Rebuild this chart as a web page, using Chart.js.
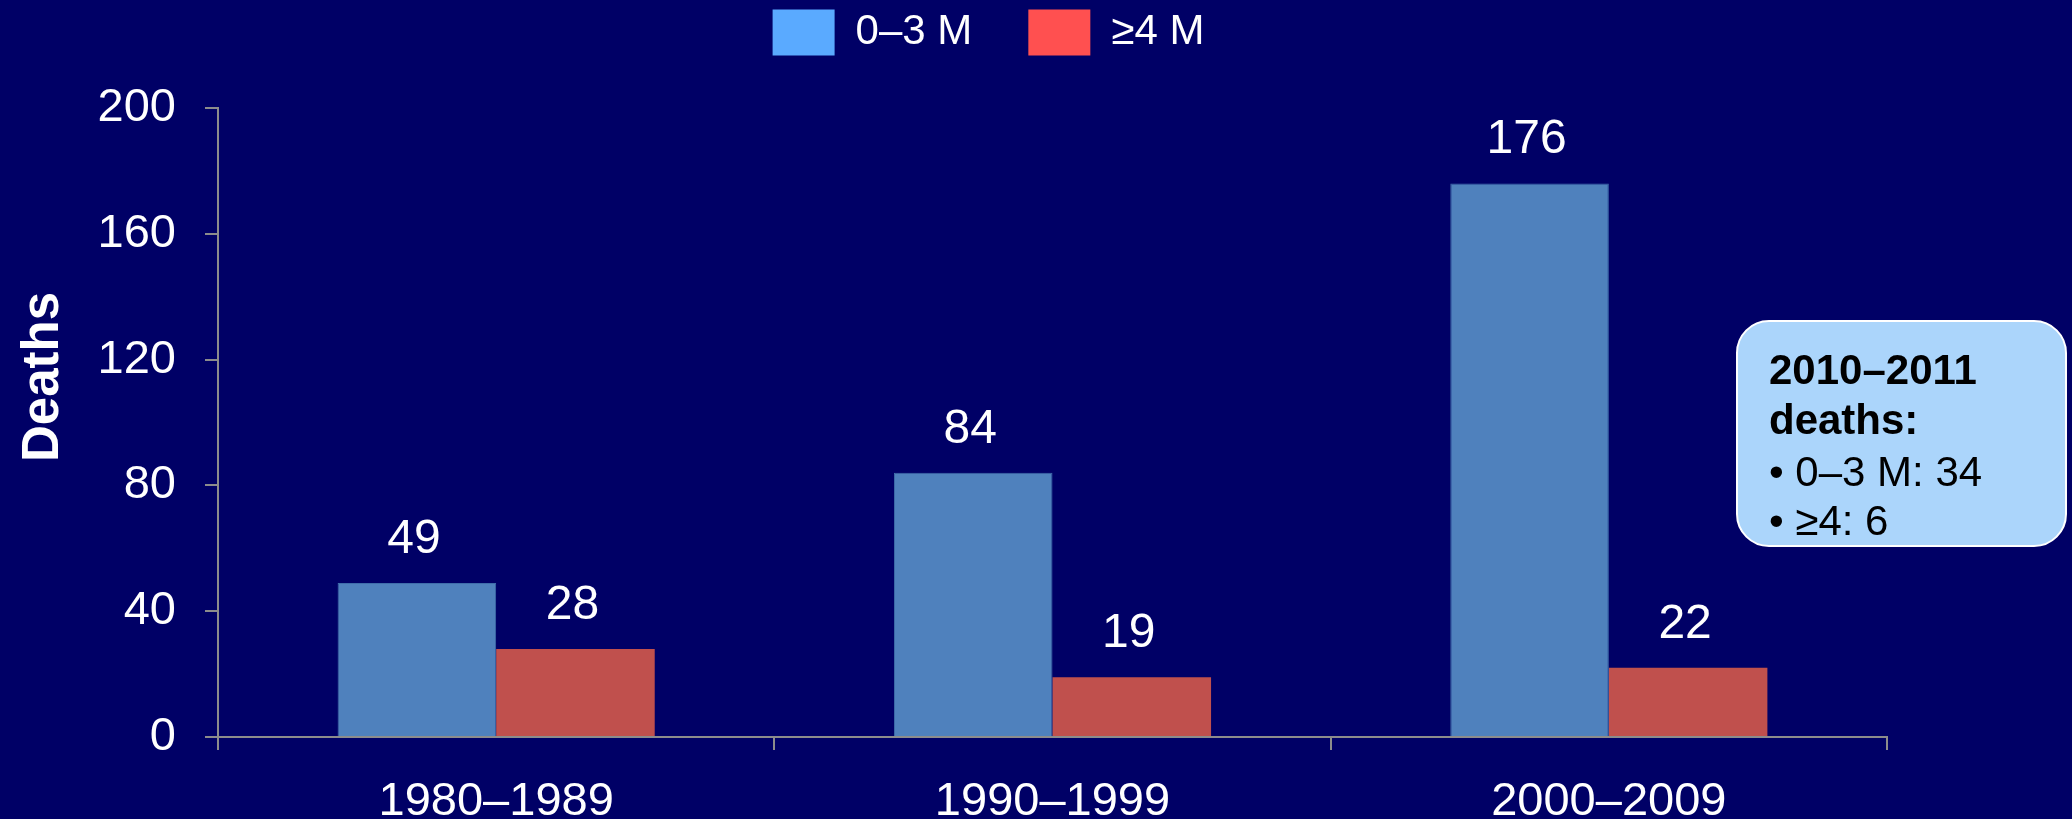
<!DOCTYPE html>
<html>
<head>
<meta charset="utf-8">
<script src="https://cdn.jsdelivr.net/npm/chart.js@4"></script>
<style>
  html, body { margin: 0; padding: 0; background: #000066; }
  #wrap { width: 2072px; height: 819px; position: relative; overflow: hidden; }
  canvas { display: block; }
</style>
</head>
<body>
<div id="wrap"><canvas id="chart" width="2072" height="819"></canvas></div>
<script>
// Deaths per decade, split by age group
const categories = ['1980–1989', '1990–1999', '2000–2009'];
const seriesNames = ['0–3 M', '≥4 M'];
const deathsYoung = [49, 84, 176];
const deathsOlder = [28, 19, 22];
const yTickValues = [0, 40, 80, 120, 160, 200];
const axisTitle = 'Deaths';
const noteHeading = ['2010–2011', 'deaths:'];
const noteItems = ['• 0–3 M: 34', '• ≥4: 6'];

const FONT = '"Liberation Sans", Arial, Helvetica, sans-serif';
const BG = '#000066';
const AXIS = '#8c8c8c';
const barColors = ['#4F81BD', '#C0504D'];
const legendColors = ['#5AAAFF', '#FF5050'];

// Background fill, legend placement and fixed plot-area geometry
const frame = {
  id: 'frame',
  beforeLayout(chart) {
    const lg = chart.legend;
    if (lg && !lg._fixedFit) {
      const fit = lg.fit;
      lg.fit = function () { fit.call(this); this.height = 108; };
      lg._fixedFit = true;
    }
  },
  afterLayout(chart) {
    const lg = chart.legend;
    lg.left += 45; lg.right += 45;
    lg.top -= 46.5; lg.bottom -= 46.5;
  },
  beforeDraw(chart) {
    const { ctx, width, height } = chart;
    ctx.save();
    ctx.fillStyle = BG;
    ctx.fillRect(0, 0, width, height);
    ctx.restore();
  }
};

// Value labels above each bar, the rotated axis title and the side note
const annotations = {
  id: 'annotations',
  afterDatasetsDraw(chart) {
    const ctx = chart.ctx;
    ctx.save();
    ctx.fillStyle = '#ffffff';
    ctx.font = '48px ' + FONT;
    ctx.textAlign = 'center';
    ctx.textBaseline = 'alphabetic';
    chart.data.datasets.forEach((ds, di) => {
      chart.getDatasetMeta(di).data.forEach((bar, i) => {
        ctx.fillText(String(ds.data[i]), bar.x - 3, bar.y - 30);
      });
    });
    ctx.restore();
  },
  afterDraw(chart) {
    const ctx = chart.ctx;
    // y-axis title
    ctx.save();
    ctx.translate(58, 377);
    ctx.rotate(-Math.PI / 2);
    ctx.fillStyle = '#ffffff';
    ctx.font = 'bold 51px ' + FONT;
    ctx.textAlign = 'center';
    ctx.textBaseline = 'alphabetic';
    ctx.fillText(axisTitle, 0, 0);
    ctx.restore();

    // side note box
    const bx = 1737, by = 321, bw = 329, bh = 225, r = 32;
    ctx.save();
    ctx.beginPath();
    ctx.roundRect(bx, by, bw, bh, r);
    ctx.fillStyle = '#ABD5FB';
    ctx.fill();
    ctx.lineWidth = 2;
    ctx.strokeStyle = '#ffffff';
    ctx.stroke();
    ctx.fillStyle = '#000000';
    ctx.textAlign = 'left';
    ctx.textBaseline = 'alphabetic';
    const tx = 1769;
    const baselines = [384, 434, 486, 535];
    ctx.font = 'bold 42px ' + FONT;
    noteHeading.forEach((t, i) => ctx.fillText(t, tx, baselines[i]));
    ctx.font = '42px ' + FONT;
    noteItems.forEach((t, i) => ctx.fillText(t, tx, baselines[noteHeading.length + i]));
    ctx.restore();
  }
};

new Chart(document.getElementById('chart'), {
  type: 'bar',
  data: {
    labels: categories,
    datasets: [
      { label: seriesNames[0], data: deathsYoung, backgroundColor: barColors[0], borderColor: '#3F6DAA', borderWidth: 1 },
      { label: seriesNames[1], data: deathsOlder, backgroundColor: barColors[1], borderWidth: 0 }
    ]
  },
  options: {
    responsive: false,
    animation: false,
    devicePixelRatio: 1,
    layout: { padding: { left: 0, right: 185, top: 0, bottom: 0 } },
    datasets: { bar: { categoryPercentage: 0.57, barPercentage: 1.0 } },
    plugins: {
      tooltip: { enabled: false },
      legend: {
        position: 'top',
        labels: {
          color: '#ffffff',
          font: { family: FONT, size: 42 },
          boxWidth: 62,
          boxHeight: 46,
          padding: 56,
          generateLabels: () => seriesNames.map((t, i) => ({
            text: t,
            fillStyle: legendColors[i],
            strokeStyle: legendColors[i],
            lineWidth: 0,
            hidden: false,
            datasetIndex: i,
            fontColor: '#ffffff'
          }))
        }
      }
    },
    scales: {
      x: {
        afterFit: s => { s.height = 82; },
        grid: { offset: true, drawOnChartArea: false, drawTicks: true, tickLength: 13, color: AXIS, lineWidth: 2 },
        border: { display: true, color: AXIS, width: 2 },
        ticks: { color: '#ffffff', font: { family: FONT, size: 47 }, padding: 24, maxRotation: 0, autoSkip: false }
      },
      y: {
        min: 0,
        max: 200,
        afterBuildTicks: s => { s.ticks = yTickValues.map(v => ({ value: v })); },
        afterFit: s => { s.width = 218; },
        grid: { drawOnChartArea: false, drawTicks: true, tickLength: 13, color: AXIS, lineWidth: 2 },
        border: { display: true, color: AXIS, width: 2 },
        ticks: { color: '#ffffff', font: { family: FONT, size: 47 }, padding: 29 }
      }
    }
  },
  plugins: [frame, annotations]
});
</script>
</body>
</html>
